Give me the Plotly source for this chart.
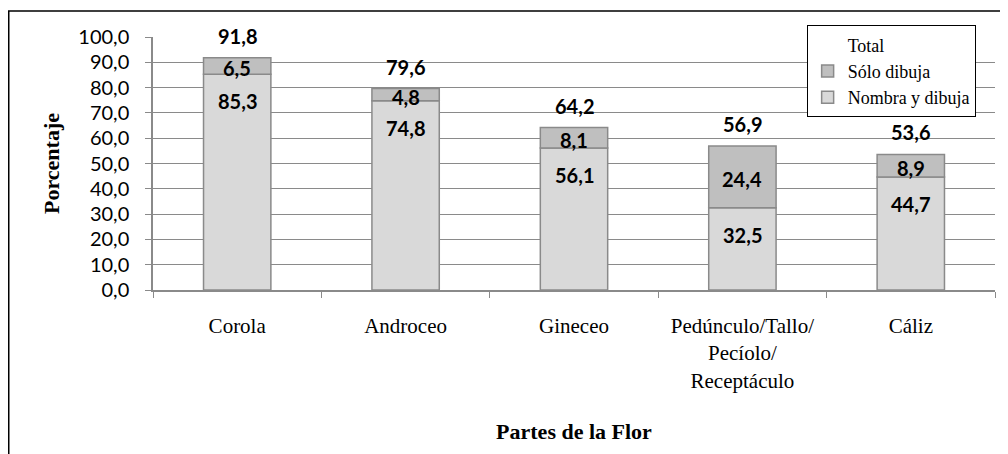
import plotly.graph_objects as go

categories = ["Corola", "Androceo", "Gineceo",
              "Pedúnculo/Tallo/<br>Pecíolo/<br>Receptáculo", "Cáliz"]
nombra_y_dibuja = [85.3, 74.8, 56.1, 32.5, 44.7]
solo_dibuja = [6.5, 4.8, 8.1, 24.4, 8.9]
total = [91.8, 79.6, 64.2, 56.9, 53.6]
y_ticks = [0, 10, 20, 30, 40, 50, 60, 70, 80, 90, 100]

EDGE = "#8a8a8a"
fig = go.Figure()
fig.add_trace(go.Bar(x=categories, y=nombra_y_dibuja, name="Nombra y dibuja",
                     marker=dict(color="#d9d9d9", line=dict(color=EDGE, width=1.5)),
                     width=0.4, hoverinfo="y"))
fig.add_trace(go.Bar(x=categories, y=solo_dibuja, base=nombra_y_dibuja, name="Sólo dibuja",
                     marker=dict(color="#bfbfbf", line=dict(color=EDGE, width=1.5)),
                     width=0.4, hoverinfo="y"))
fig.add_trace(go.Bar(x=categories, y=total, name="Total",
                     marker=dict(color="rgba(0,0,0,0)", line=dict(width=0)),
                     width=0.4, hoverinfo="y"))

def fmt(v):
    return f"{v:.1f}".replace(".", ",")

lab_font = dict(family="Lato, Open Sans, sans-serif", size=20, color="black")
annotations = []
for c, n, s, t in zip(categories, nombra_y_dibuja, solo_dibuja, total):
    annotations.append(dict(x=c, y=t, text=f"<b>{fmt(t)}</b>", showarrow=False,
                            yshift=22, font=lab_font))
    annotations.append(dict(x=c, y=n + s / 2, text=f"<b>{fmt(s)}</b>", showarrow=False,
                            yshift=-2, font=lab_font))
    annotations.append(dict(x=c, y=n, text=f"<b>{fmt(n)}</b>", showarrow=False,
                            yshift=-27, font=lab_font))

serif = "Liberation Serif, Times New Roman, serif"
L, R, T, B = 145, 21, 29, 172
PW, PH = 1008 - L - R, 454 - T - B
fig.update_layout(
    width=1008, height=454,
    barmode="overlay",
    separators=",.",
    plot_bgcolor="white", paper_bgcolor="white",
    margin=dict(l=L, r=R, t=T, b=B, autoexpand=False),
    showlegend=True,
    legend=dict(x=0.977, xanchor="right", y=1.046, yanchor="top",
                traceorder="reversed", bordercolor="black", borderwidth=1,
                bgcolor="white", font=dict(family=serif, size=18, color="black"),
                itemwidth=30, tracegroupgap=0),
    annotations=annotations,
    shapes=[dict(type="rect", xref="paper", yref="paper",
                 x0=(0.75 - L) / PW, x1=(1030 - L) / PW,
                 y0=(454 - B - 480) / PH, y1=(454 - B - 3) / PH,
                 line=dict(color="black", width=1.5), fillcolor="rgba(0,0,0,0)",
                 layer="above")],
)
fig.update_yaxes(range=[0, 100], tickvals=y_ticks, tickformat=".1f",
                 automargin=False,
                 showgrid=True, gridcolor=EDGE, gridwidth=1,
                 showline=True, linecolor=EDGE, linewidth=1.5,
                 ticks="outside", ticklen=6, tickcolor=EDGE,
                 ticklabelstandoff=12,
                 tickfont=dict(family="Lato, Open Sans, sans-serif", size=20, color="black"),
                 title=dict(text="<b>Porcentaje</b>", standoff=13,
                            font=dict(family=serif, size=22, color="black")),
                 zeroline=False)
fig.update_xaxes(showgrid=False, showline=True, linecolor=EDGE, linewidth=1.5,
                 automargin=False,
                 ticks="outside", ticklen=6, tickcolor=EDGE, tickson="boundaries",
                 ticklabelstandoff=16,
                 tickfont=dict(family=serif, size=21, color="black"),
                 title=dict(text="<b>Partes de la Flor</b>", standoff=32,
                            font=dict(family=serif, size=22, color="black")))

fig.write_html("out.html")
